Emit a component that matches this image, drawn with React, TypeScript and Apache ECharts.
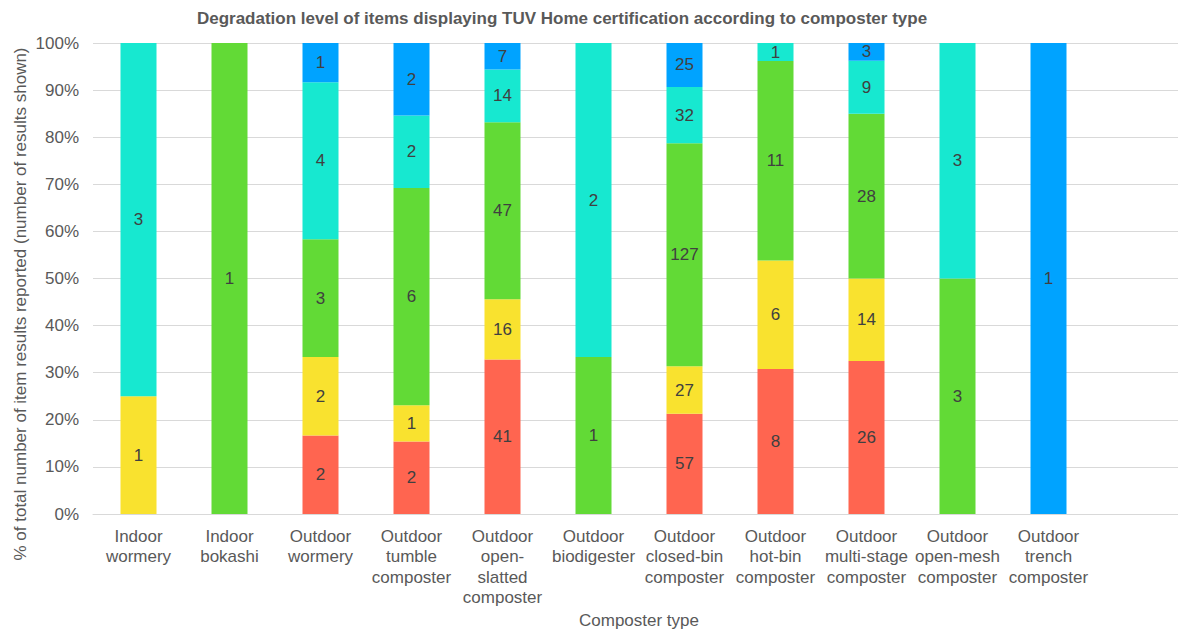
import React, { useEffect, useRef } from "react";
import * as echarts from "echarts";

const categories = [
  "Indoor\nwormery",
  "Indoor\nbokashi",
  "Outdoor\nwormery",
  "Outdoor\ntumble\ncomposter",
  "Outdoor\nopen-\nslatted\ncomposter",
  "Outdoor\nbiodigester",
  "Outdoor\nclosed-bin\ncomposter",
  "Outdoor\nhot-bin\ncomposter",
  "Outdoor\nmulti-stage\ncomposter",
  "Outdoor\nopen-mesh\ncomposter",
  "Outdoor\ntrench\ncomposter",
  "",
];

const redCounts = [null, null, 2, 2, 41, null, 57, 8, 26, null, null];
const yellowCounts = [1, null, 2, 1, 16, null, 27, 6, 14, null, null];
const greenCounts = [null, 1, 3, 6, 47, 1, 127, 11, 28, 3, null];
const cyanCounts = [3, null, 4, 2, 14, 2, 32, 1, 9, 3, null];
const blueCounts = [null, null, 1, 2, 7, null, 25, null, 3, null, 1];

const yTicks = [0, 10, 20, 30, 40, 50, 60, 70, 80, 90, 100];

const seriesDefs = [
  { name: "red", color: "#FF6550", counts: redCounts },
  { name: "yellow", color: "#F9E22F", counts: yellowCounts },
  { name: "green", color: "#62DA36", counts: greenCounts },
  { name: "cyan", color: "#17E8D0", counts: cyanCounts },
  { name: "blue", color: "#00A3FF", counts: blueCounts },
];

const FONT = "'Liberation Sans', Arial, Helvetica, sans-serif";

export default function App() {
  const ref = useRef<HTMLDivElement>(null);
  useEffect(() => {
    if (!ref.current) return;
    const chart = echarts.init(ref.current, null, { renderer: "svg" });
    const totals = categories.map((_, i) =>
      seriesDefs.reduce((s, d) => s + ((d.counts[i] as number) || 0), 0)
    );
    const series = seriesDefs.map((d) => ({
      name: d.name,
      type: "bar",
      stack: "total",
      barWidth: 36,
      itemStyle: { color: d.color },
      label: {
        show: true,
        position: "inside",
        fontFamily: FONT,
        fontSize: 17,
        color: "#404040",
        formatter: (p: any) => (p.data && p.data.count != null ? String(p.data.count) : ""),
      },
      data: categories.map((_, i) => {
        const c = d.counts[i];
        if (c == null || !totals[i]) return null;
        return { value: ((c as number) / totals[i]) * 100, count: c };
      }),
    }));
    chart.setOption({
      animation: false,
      textStyle: { fontFamily: FONT },
      grid: { left: 93, right: 1, top: 43, bottom: 128, containLabel: false },
      xAxis: {
        type: "category",
        data: categories,
        axisLine: { show: true, lineStyle: { color: "#d9d9d9", width: 1 } },
        axisTick: { show: false },
        axisLabel: {
          interval: 0,
          fontFamily: FONT,
          fontSize: 17,
          color: "#595959",
          lineHeight: 20.5,
          margin: 12,
        },
      },
      yAxis: {
        type: "value",
        min: 0,
        max: 100,
        interval: 10,
        axisLine: { show: false },
        axisTick: { show: false },
        splitLine: { lineStyle: { color: "#d9d9d9", width: 1 } },
        axisLabel: {
          fontFamily: FONT,
          fontSize: 17,
          color: "#595959",
          margin: 14,
          formatter: (v: number) => (yTicks.includes(v) ? v + "%" : ""),
        },
      },
      graphic: [
        {
          type: "text",
          x: 562,
          y: 18,
          style: {
            text: "Degradation level of items displaying TUV Home certification according to composter type",
            font: `bold 17px ${FONT}`,
            fill: "#595959",
            align: "center",
            verticalAlign: "middle",
          },
        },
        {
          type: "text",
          x: 20,
          y: 304,
          rotation: Math.PI / 2,
          style: {
            text: "% of total number of item results reported (number of results shown)",
            font: `17px ${FONT}`,
            fill: "#595959",
            align: "center",
            verticalAlign: "middle",
          },
        },
        {
          type: "text",
          x: 639,
          y: 620,
          style: {
            text: "Composter type",
            font: `17px ${FONT}`,
            fill: "#595959",
            align: "center",
            verticalAlign: "middle",
          },
        },
      ],
      series,
    });
    return () => chart.dispose();
  }, []);
  return <div ref={ref} style={{ width: 1186, height: 642, margin: -8 }} />;
}
